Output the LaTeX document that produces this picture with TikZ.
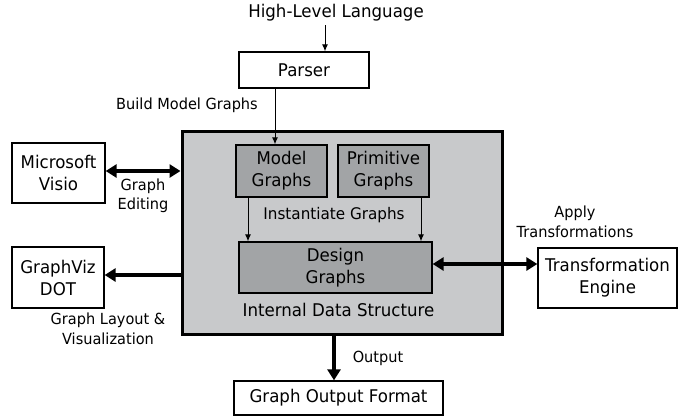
\documentclass[tikz,border=0pt]{standalone}
\usepackage{fontspec}
\setmainfont{DejaVu Sans}[FakeStretch=0.95]
\usetikzlibrary{arrows.meta}

\definecolor{boxgray}{RGB}{200,201,203}
\definecolor{graphgray}{RGB}{162,164,166}

\tikzstyle{b} = [rectangle, draw=black, line width=1.3pt, fill=white, align=center, font=\fontsize{17.5}{22}\selectfont, inner sep=0pt]
\tikzstyle{g} = [b, fill=graphgray]
\tikzstyle{lbl} = [align=center, font=\fontsize{15.3}{19.5}\selectfont]
\tikzstyle{thin} = [line width=1pt, -{Latex[length=7pt,width=6pt]}]
\tikzstyle{thick} = [line width=4pt, -{Triangle[length=11pt,width=13pt]}]

\begin{document}
\begin{tikzpicture}[x=1pt, y=-1pt]
        \useasboundingbox (0,0) rectangle (679,416);
        \node (lang) [lbl, font=\fontsize{17.5}{20}\selectfont] at (336,13) {High-Level Language};
        \node (parser) [b, minimum width=130pt, minimum height=36pt] at (304,70) {Parser};
        \node (ids) [rectangle, draw=black, line width=3pt, fill=boxgray, minimum width=320pt, minimum height=203pt] at (342,232.5) {};
        \node (model) [g, minimum width=91pt, minimum height=52pt] at (281.5,171) {Model\\Graphs};
        \node (prim) [g, minimum width=91pt, minimum height=52pt] at (383.5,171) {Primitive\\Graphs};
        \node (design) [g, minimum width=193pt, minimum height=51pt] at (335.5,267.5) {Design\\Graphs};
        \node (visio) [b, minimum width=93pt, minimum height=60pt] at (58.5,173) {Microsoft\\Visio};
        \node (gviz) [b, minimum width=92pt, minimum height=61pt] at (58,277.5) {GraphViz\\DOT};
        \node (trans) [b, minimum width=139pt, minimum height=60pt] at (607.5,278) {Transformation\\Engine};
        \node (out) [b, minimum width=209pt, minimum height=34pt] at (338.5,398) {Graph Output Format};

        \node (build) [lbl] at (187,105) {Build Model Graphs};
        \node (edit) [lbl] at (143,196) {Graph\\Editing};
        \node (inst) [lbl, font=\fontsize{16}{20}\selectfont] at (334,215) {Instantiate Graphs};
        \node (intl) [lbl, font=\fontsize{17.5}{20}\selectfont] at (338.5,310) {Internal Data Structure};
        \node (apply) [lbl] at (575,222) {Apply\\Transformations};
        \node (layout) [lbl] at (108,329) {Graph Layout \&\\Visualization};
        \node (outl) [lbl] at (378,358) {Output};

        \draw [thin] (lang.south -| 325,0) -- (parser.north -| 325,0);
        \draw [thin] (parser.south -| 275,0) -- (model.north -| 275,0);
        \draw [thin] (model.south -| 248,0) -- (design.north -| 248,0);
        \draw [thin] (prim.south -| 421,0) -- (design.north -| 421,0);
        \draw [thick, {Triangle[length=11pt,width=13pt]}-{Triangle[length=11pt,width=13pt]}] (visio.east |- 0,171) -- (ids.west |- 0,171);
        \draw [thick] (ids.west |- 0,275) -- (gviz.east |- 0,275);
        \draw [thick, {Triangle[length=11pt,width=13pt]}-{Triangle[length=11pt,width=13pt]}] (design.east |- 0,264) -- (trans.west |- 0,264);
        \draw [thick] (ids.south -| 334,0) -- (out.north -| 334,0);
    \end{tikzpicture}
\end{document}
